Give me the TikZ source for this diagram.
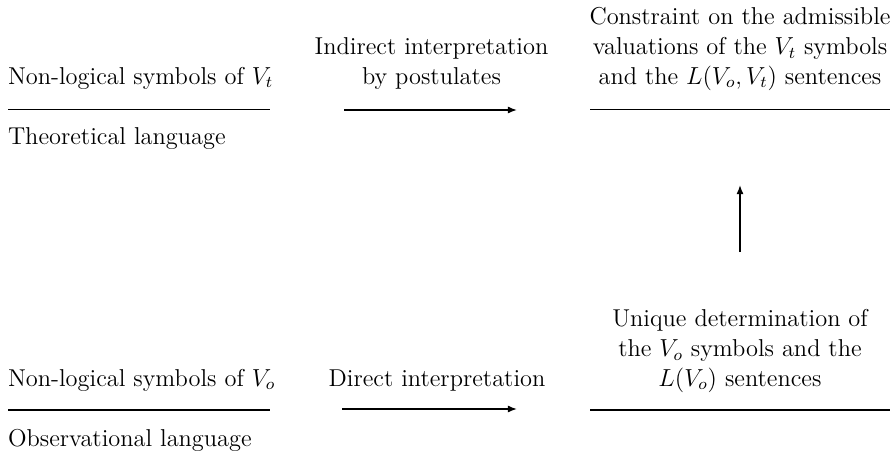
\documentclass[tikz,border=0pt]{standalone}
\usetikzlibrary{arrows.meta}
\begin{document}
\begin{tikzpicture}[x=0.4878pt,y=-0.4878pt,
  txt/.style={inner sep=0pt,outer sep=0pt,font=\fontsize{11.9}{14.4}\selectfont},
  lbl/.style={txt,anchor=base west},
  mid/.style={txt,anchor=base,align=center},
  rule/.style={line width=0.7pt},
  conn/.style={line width=0.7pt,-{Latex[length=4.5pt,width=3.5pt]}}]
\useasboundingbox (0,0) rectangle (893,452);
% top row
\node[lbl] (ntl) at (8,84) {Non-logical symbols of $V_t$};
\coordinate (tl1) at (8,109.5);
\coordinate (tl2) at (270,109.5);
\draw[rule] (tl1) -- (tl2);
\node[lbl] (theo) at (8,144) {Theoretical language};
\node[mid] (indir) at (431.5,84) {Indirect interpretation\\by postulates};
\coordinate (ta1) at (344,110);
\coordinate (ta2) at (517,110);
\draw[conn] (ta1) -- (ta2);
\node[mid] (constr) at (740,84) {Constraint on the admissible\\valuations of the $V_t$ symbols\\and the $L(V_o,V_t)$ sentences};
\coordinate (tr1) at (590,109.5);
\coordinate (tr2) at (890,109.5);
\draw[rule] (tr1) -- (tr2);
% vertical arrow
\coordinate (va1) at (740,252);
\coordinate (va2) at (740,185);
\draw[conn] (va1) -- (va2);
% bottom row
\node[lbl] (nbl) at (8,386) {Non-logical symbols of $V_o$};
\coordinate (bl1) at (8,410);
\coordinate (bl2) at (270,410);
\draw[rule] (bl1) -- (bl2);
\node[lbl] (obs) at (8,446) {Observational language};
\node[mid] (dir) at (437,386) {Direct interpretation};
\coordinate (ba1) at (342,409);
\coordinate (ba2) at (517,409);
\draw[conn] (ba1) -- (ba2);
\node[mid] (uniq) at (740,386) {Unique determination of\\the $V_o$ symbols and the\\$L(V_o)$ sentences};
\coordinate (br1) at (590,410);
\coordinate (br2) at (890,410);
\draw[rule] (br1) -- (br2);
\end{tikzpicture}
\end{document}
